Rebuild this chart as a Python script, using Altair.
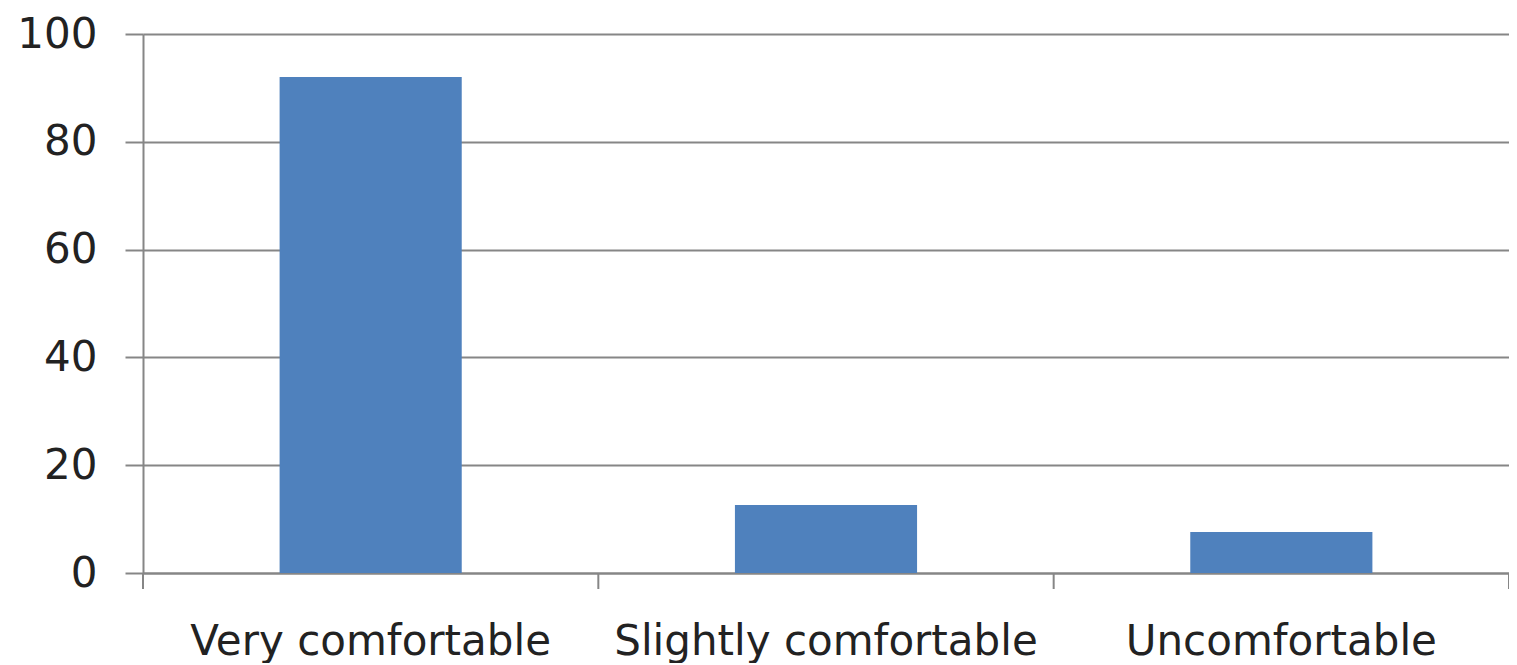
import altair as alt
import pandas as pd

categories = ["Very comfortable", "Slightly comfortable", "Uncomfortable"]
values = [92, 12.6, 7.6]
y_ticks = [0, 20, 40, 60, 80, 100]

df = pd.DataFrame({"category": categories, "value": values})

FONT = "DejaVu Sans"
GRID = "#868686"
TEXT = "#222222"
PLOT_W = 1366
PLOT_H = 539
PAD_IN = 0.6
PAD_OUT = 0.3
n = len(categories)
step = PLOT_W / (n - PAD_IN + 2 * PAD_OUT)
edge_shift = PAD_IN / 2 * step  # distance from bar edge to category boundary

xscale = alt.Scale(domain=categories, paddingInner=PAD_IN, paddingOuter=PAD_OUT)

bars = alt.Chart(df).mark_bar(color="#4F81BD").encode(
    x=alt.X(
        "category:N",
        sort=categories,
        title=None,
        scale=xscale,
        axis=alt.Axis(
            labelAngle=0,
            labelFont=FONT,
            labelFontSize=42,
            labelColor=TEXT,
            labelPadding=48,
            labelLimit=0,
            ticks=False,
            domainColor=GRID,
            domainWidth=2,
            grid=False,
        ),
    ),
    y=alt.Y(
        "value:Q",
        title=None,
        scale=alt.Scale(domain=[0, 100], nice=False),
        axis=alt.Axis(
            values=y_ticks,
            labelFont=FONT,
            labelFontSize=42,
            labelColor=TEXT,
            labelPadding=28,
            tickSize=18,
            tickColor=GRID,
            tickWidth=2,
            domainColor=GRID,
            domainWidth=2,
            grid=True,
            gridColor=GRID,
            gridWidth=2,
        ),
    ),
)

# category-boundary tick marks below the x axis (Excel style)
tick_left = alt.Chart(df).mark_rule(color=GRID, strokeWidth=2, xOffset=-edge_shift).encode(
    x=alt.X("category:N", sort=categories, scale=xscale, bandPosition=0),
    y=alt.value(PLOT_H),
    y2=alt.value(PLOT_H + 16),
)
tick_right = alt.Chart(df.tail(1)).mark_rule(color=GRID, strokeWidth=2, xOffset=edge_shift).encode(
    x=alt.X("category:N", sort=categories, scale=xscale, bandPosition=1),
    y=alt.value(PLOT_H),
    y2=alt.value(PLOT_H + 16),
)

chart = alt.layer(bars, tick_left, tick_right).properties(
    width=PLOT_W,
    height=PLOT_H,
    padding={"left": 135, "top": 26, "right": 0, "bottom": 90},
    autosize="none",
).configure_view(stroke=None).configure(background="white")

chart.save("out.html", embed_options={"renderer": "svg", "actions": False})
